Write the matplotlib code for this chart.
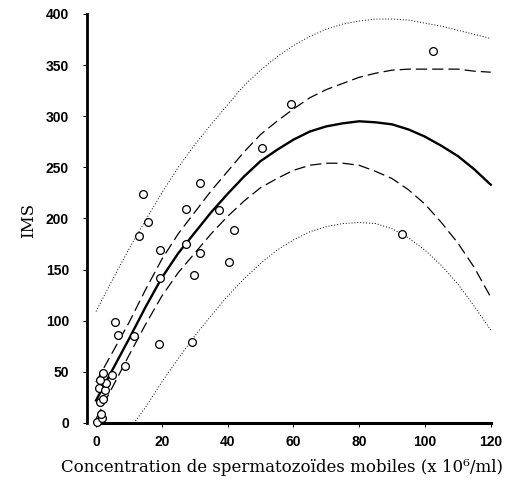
import numpy as np
import matplotlib
matplotlib.use("Agg")
from matplotlib import pyplot as plt

# observed points (concentration, IMS)
conc = [0.4, 1.9, 1.5, 1.2, 2.2, 0.9, 2.7, 2.9, 1.2, 2.2, 4.8, 8.8, 5.8, 6.8, 11.7,
        19.2, 29.1, 19.5, 29.9, 40.3, 31.6, 27.4, 19.5, 42.0, 13.0, 15.8, 27.4,
        37.3, 14.2, 31.6, 50.4, 59.2, 102.5, 92.9]
ims = [1, 5, 9, 21, 23, 34, 32, 39, 42, 49, 47, 56, 99, 86, 85,
       77, 79, 142, 145, 157, 166, 175, 169, 189, 183, 197, 209,
       208, 224, 235, 269, 312, 364, 185]

# curves
xc = [0, 5, 10, 15, 20, 25, 30, 35, 40, 45, 50, 55, 60, 65, 70, 75, 80, 85,
      90, 95, 100, 105, 110, 115, 120]
fit = [22, 52, 82, 113, 142, 166, 186, 206, 224, 241, 256, 267, 277, 285, 290,
       293, 295, 294, 292, 287, 280, 271, 261, 248, 233]
ci_hi = [40, 69, 98, 130, 160, 185, 206, 227, 246, 265, 282, 295, 307, 318, 326,
         332, 338, 342, 345, 346, 346, 346, 346, 344, 343]
ci_lo = [4, 35, 66, 96, 124, 147, 166, 185, 202, 217, 230, 239, 247, 252, 254,
         254, 252, 246, 239, 228, 214, 196, 176, 152, 123]
pi_hi = [109, 140, 170, 198, 225, 250, 272, 292, 311, 330, 345, 358, 369, 378,
         385, 390, 393, 395, 395, 394, 391, 388, 384, 380, 376]
xp_lo = [12, 15, 20, 25, 30, 35, 40, 45, 50, 55, 60, 65, 70, 75, 80, 85, 90, 95,
         100, 105, 110, 115, 120]
pi_lo = [2, 15, 40, 63, 85, 105, 124, 141, 156, 169, 179, 187, 192, 195, 196,
         195, 190, 181, 169, 154, 136, 114, 91]

fig = plt.figure(figsize=(5.08, 4.84), dpi=100)
ax = fig.add_axes([0.1715, 0.1155, 0.801, 0.86])

ax.plot(xc, pi_hi, color="black", lw=0.7, ls=(0, (1, 2)))
ax.plot(xp_lo, pi_lo, color="black", lw=0.7, ls=(0, (1, 2)))
ax.plot(xc, ci_hi, color="black", lw=0.9, ls=(0, (9, 4)))
ax.plot(xc, ci_lo, color="black", lw=0.9, ls=(0, (9, 4)))
ax.plot(xc, fit, color="black", lw=1.7)
ax.plot(conc, ims, "o", mfc="white", mec="black", ms=5.6, mew=0.9, zorder=5)

ax.set_xlim(-2.7, 121)
ax.set_ylim(-5, 402)

for s in ["top", "right"]:
    ax.spines[s].set_visible(False)
ax.spines["bottom"].set_position(("data", 0))
ax.spines["bottom"].set_bounds(0, 120)
ax.spines["bottom"].set_linewidth(2.2)
ax.spines["left"].set_bounds(0, 400)
ax.spines["left"].set_linewidth(2.0)

ax.set_xticks(range(0, 121, 20))
ax.set_yticks(range(0, 401, 50))
ax.tick_params(axis="both", direction="out", length=3, width=0.7,
               labelsize=10)
ax.tick_params(axis="y", pad=10)
ax.tick_params(axis="x", pad=6)
for lab in ax.get_xticklabels() + ax.get_yticklabels():
    lab.set_fontfamily("Liberation Sans")
    lab.set_fontweight("bold")

ax.set_xlabel("Concentration de spermatozoïdes mobiles (x 10⁶/ml)",
              fontfamily="DejaVu Serif", fontsize=12, labelpad=8)
ax.xaxis.set_label_coords(0.479, -0.075)
ax.set_ylabel("IMS", fontfamily="DejaVu Serif", fontsize=12, labelpad=6)

fig.savefig("out.png", dpi=100)
